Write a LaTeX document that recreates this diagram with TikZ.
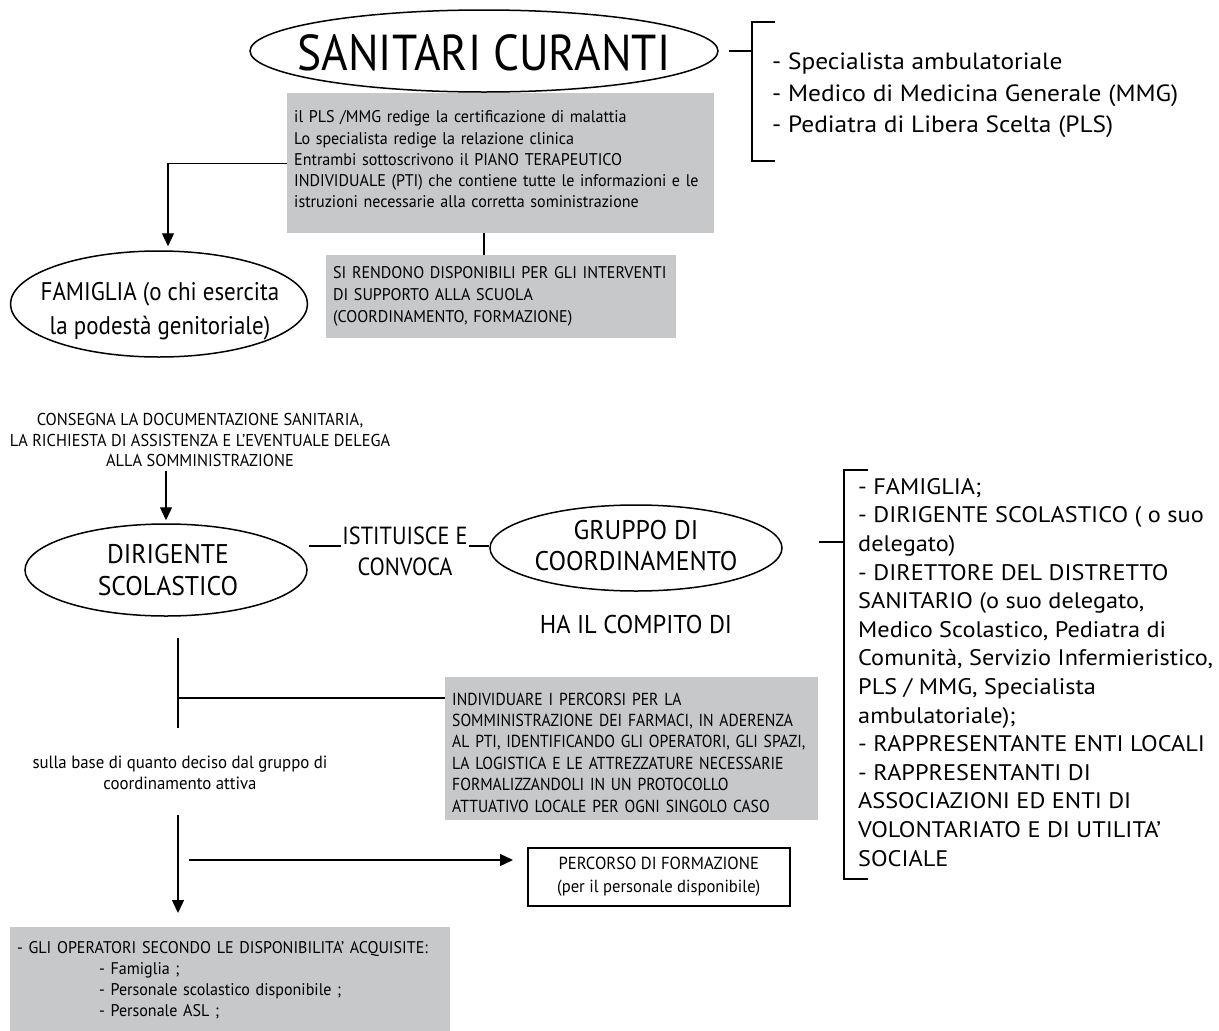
\documentclass[tikz,border=0pt]{standalone}
\usepackage{fontspec}
\setmainfont{PT Sans}
\newfontfamily\cA[FakeStretch=0.9]{PT Sans}
\newfontfamily\cB[FakeStretch=0.95]{PT Sans}
\newfontfamily\wide[FakeStretch=1.08]{PT Sans}
\usetikzlibrary{shapes.geometric,arrows.meta}
\definecolor{boxgray}{RGB}{199,200,201}
\begin{document}
\begin{tikzpicture}[x=1pt,y=-1pt,
  conn/.style={line width=1.4pt},
  arr/.style={conn,-{Triangle[width=12pt,length=13pt]}},
  ell/.style={draw,ellipse,line width=1.5pt,inner sep=0pt},
  gbox/.style={fill=boxgray,inner xsep=7pt,inner ysep=0pt,align=left,anchor=north west},
  ctext/.style={align=center,inner sep=0pt},
  brk/.style={line width=1.2pt},
]
\useasboundingbox (0,0) rectangle (1219,1031);
\fill[white] (0,0) rectangle (1219,1031);

% ---------- top ----------
\node[ell,minimum width=468,minimum height=82] (san) at (484,51) {};
\node[ctext,font=\cA\fontsize{50.5}{52}\selectfont] (sant) at (484,53) {SANITARI CURANTI};

\node[gbox,minimum width=427,minimum height=140,text width=413,font=\cB\fontsize{16.9}{21.2}\selectfont] (box1) at (287,93)
 {il PLS /MMG redige la certificazione di malattia\\
  Lo specialista redige la relazione clinica\\
  Entrambi sottoscrivono il PIANO TERAPEUTICO\\
  INDIVIDUALE (PTI) che contiene tutte le informazioni e le\\
  istruzioni necessarie alla corretta soministrazione\rule[-8pt]{0pt}{8pt}};

\node[gbox,minimum width=350,minimum height=83,text width=336,font=\cB\fontsize{16.9}{22}\selectfont] (box2) at (326,255)
 {SI RENDONO DISPONIBILI PER GLI INTERVENTI\\
  DI SUPPORTO ALLA SCUOLA\\
  (COORDINAMENTO, FORMAZIONE)};

\coordinate (b1) at (752,51);
\draw[brk] (775,22) -- (752,22) -- (752,161) -- (775,161);
\draw[conn] ([xshift=10]san.east |- b1) -- (b1);
\node[anchor=north west,inner sep=0pt,align=left,font=\wide\fontsize{23.5}{31.5}\selectfont] (lst1) at (772,53)
 {- Specialista ambulatoriale\\
  - Medico di Medicina Generale (MMG)\\
  - Pediatra di Libera Scelta (PLS)};

\node[ell,minimum width=297,minimum height=106] (fam) at (159,304) {};
\node[ctext,font=\cA\fontsize{25.5}{34}\selectfont] (famt) at (160,311)
 {FAMIGLIA (o chi esercita\\la podestà genitoriale)};

\draw[arr,shorten >=4pt] (box1.west) -| ([xshift=9pt]fam.north);
\draw[conn] (box1.south -| san.south) -- (box2.north -| san.south);

\node[ctext,font=\cB\fontsize{17.2}{20.2}\selectfont] (cons) at (200,440)
 {CONSEGNA LA DOCUMENTAZIONE SANITARIA,\\
  LA RICHIESTA DI ASSISTENZA E L’EVENTUALE DELEGA\\
  ALLA SOMMINISTRAZIONE};

% ---------- middle ----------
\node[ell,minimum width=282,minimum height=92] (dir) at (166,570) {};
\node[ctext,font=\cB\fontsize{27}{32}\selectfont] (dirt) at (168,570) {DIRIGENTE\\SCOLASTICO};
\draw[arr,shorten >=3pt] ([yshift=-4pt]cons.south -| dir.north) -- (dir.north);

\node[ctext,font=\cA\fontsize{24.8}{31}\selectfont] (ist) at (405,551) {ISTITUISCE E\\CONVOCA};

\node[ell,minimum width=292,minimum height=86] (grp) at (636,548) {};
\node[ctext,font=\cB\fontsize{27}{31}\selectfont] (grpt) at (636,546) {GRUPPO DI\\COORDINAMENTO};

\coordinate (d1) at (309,546);
\coordinate (d2) at (489,546);
\draw[conn] (d1) -- ([xshift=-1pt]d1 -| ist.west);
\draw[conn] ([xshift=1pt]ist.east |- d2) -- (d2);

\node[ctext,font=\cB\fontsize{25.7}{31}\selectfont] (ha) at (636,624) {HA IL COMPITO DI};

\coordinate (b2) at (844,542);
\draw[brk] (868,470) -- (844,470) -- (844,879) -- (868,879);
\draw[conn] ([xshift=36]grp.east |- b2) -- (b2);
\node[anchor=north west,inner sep=0pt,align=left,font=\wide\fontsize{22.5}{28.6}\selectfont] (lst2) at (858,478)
 {- FAMIGLIA;\\
  - DIRIGENTE SCOLASTICO ( o suo\\
  delegato)\\
  - DIRETTORE DEL DISTRETTO\\
  SANITARIO (o suo delegato,\\
  Medico Scolastico, Pediatra di\\
  Comunità, Servizio Infermieristico,\\
  PLS / MMG, Specialista\\
  ambulatoriale);\\
  - RAPPRESENTANTE ENTI LOCALI\\
  - RAPPRESENTANTI DI\\
  ASSOCIAZIONI ED ENTI DI\\
  VOLONTARIATO E DI UTILITA’\\
  SOCIALE};

% ---------- lower ----------
\node[gbox,minimum width=373,minimum height=143,text width=359,font=\cA\fontsize{17.4}{21.4}\selectfont] (box3) at (445,677)
 {\rule{0pt}{20pt}INDIVIDUARE I PERCORSI PER LA\\
  SOMMINISTRAZIONE DEI FARMACI, IN ADERENZA\\
  AL PTI, IDENTIFICANDO GLI OPERATORI, GLI SPAZI,\\
  LA LOGISTICA E LE ATTREZZATURE NECESSARIE\\
  FORMALIZZANDOLI IN UN PROTOCOLLO\\
  ATTUATIVO LOCALE PER OGNI SINGOLO CASO};

\coordinate (v0) at (178,638);
\coordinate (v1) at (178,698);
\coordinate (v2) at (178,728);
\draw[conn] (v0) -- (v2);
\draw[conn] (v1) -- (v1 -| box3.west);

\node[ctext,font=\cB\fontsize{17.7}{21}\selectfont] (sulla) at (180,773)
 {sulla base di quanto deciso dal gruppo di\\coordinamento attiva};

\node[gbox,minimum width=440,minimum height=106,text width=426,font=\cB\fontsize{16.9}{21}\selectfont] (bot) at (10,927)
 {- GLI OPERATORI SECONDO LE DISPONIBILITA’ ACQUISITE:\\
  \hspace*{82pt}- Famiglia ;\\
  \hspace*{82pt}- Personale scolastico disponibile ;\\
  \hspace*{82pt}- Personale ASL ;};

\node[draw,fill=white,line width=1.5pt,minimum width=262,minimum height=58,align=center,
      font=\cB\fontsize{17.5}{23}\selectfont,anchor=north west] (perc) at (527,847)
 {PERCORSO DI FORMAZIONE\\(per il personale disponibile)};

\coordinate (v3) at (178,815);
\coordinate (h1) at (189,860);
\draw[arr] (v3) -- ([yshift=14pt]v3 |- bot.north);
\draw[arr,shorten >=14pt] (h1) -- (h1 -| perc.west);
\end{tikzpicture}
\end{document}
